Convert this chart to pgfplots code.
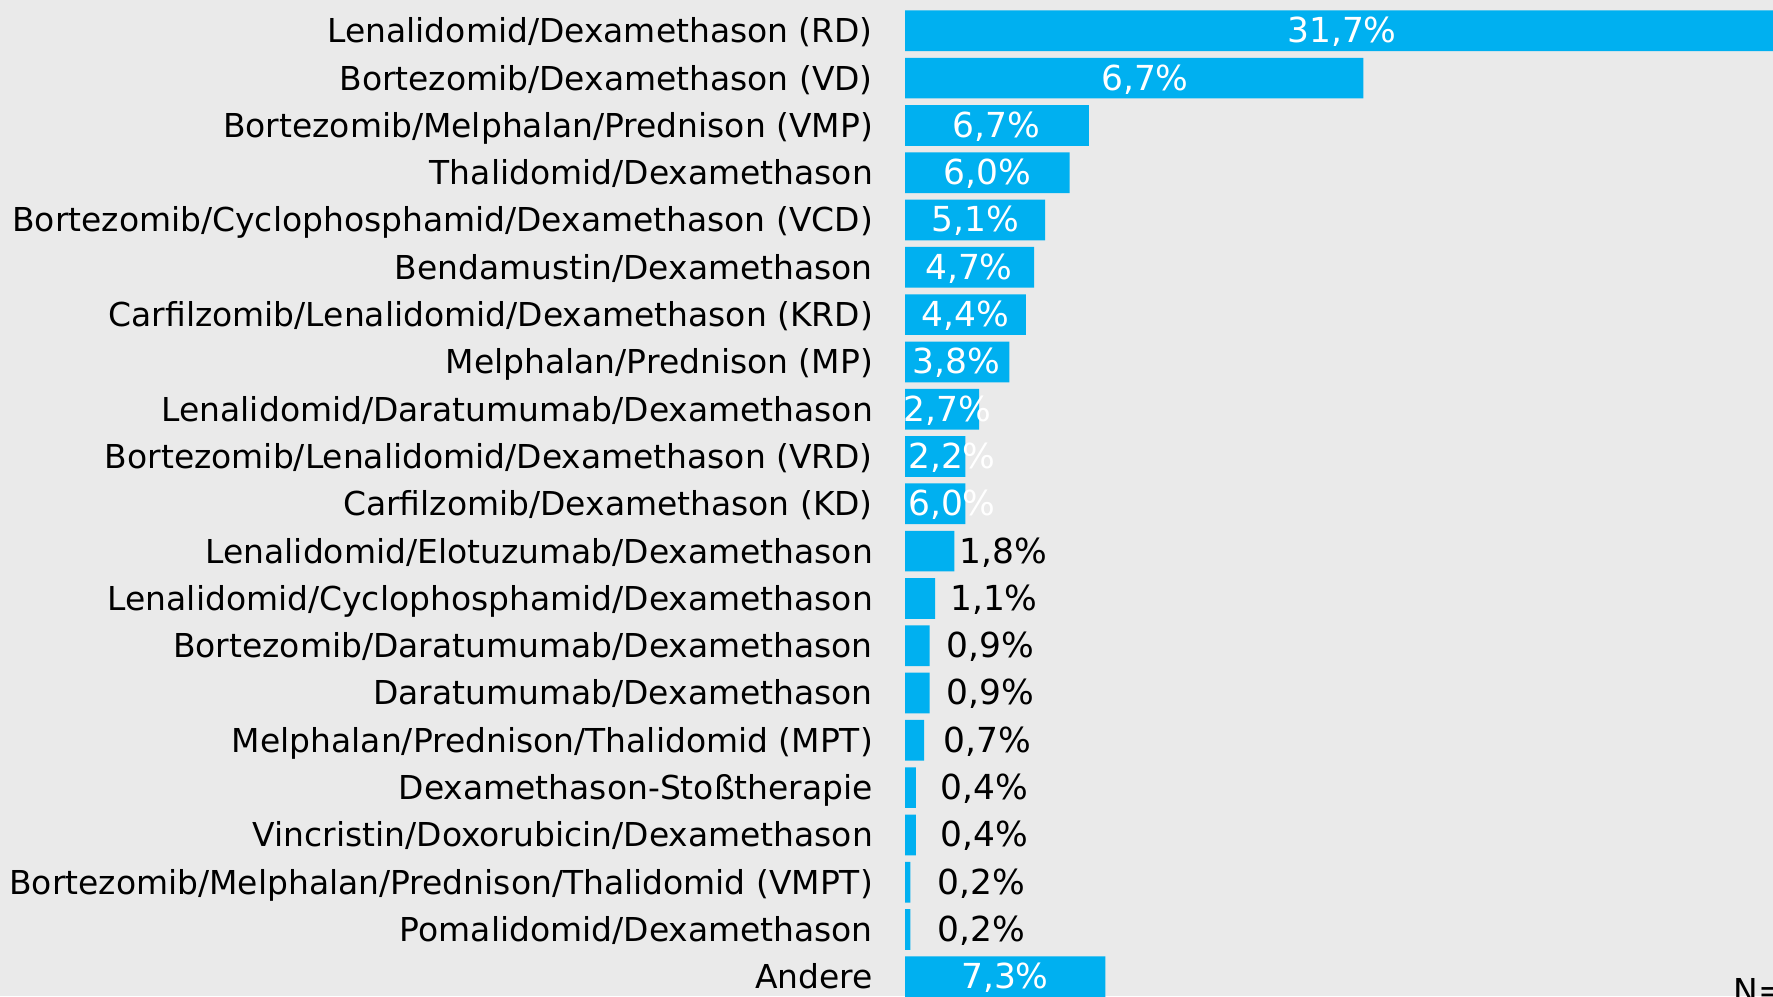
\documentclass[border=0pt]{standalone}
\usepackage{pgfplots}
\pgfplotsset{compat=1.18}
\usepackage{fontspec}
\setmainfont{DejaVu Sans}
\definecolor{barblue}{HTML}{00B0F0}
\definecolor{bggray}{HTML}{EAEAEA}
\begin{document}
\fontsize{9.37pt}{11pt}\selectfont
\begin{tikzpicture}
% 1 px of the reference = 0.01 cm
\useasboundingbox (0,0) rectangle (17.73,-9.96);
\fill[bggray] (0,0) rectangle (17.73,-9.96);
\clip (0,0) rectangle (17.73,-9.96);
\begin{axis}[
  at={(9.05cm,-0.0715cm)}, anchor=north west,
  scale only axis, width=8.702cm, height=9.933cm,
  xmin=0, xmax=31.7, ymin=-0.5, ymax=20.5, y dir=reverse,
  axis line style={draw=none},
  tick style={draw=none}, major tick length=0pt,
  xtick=\empty,
  ytick={0,...,20},
  yticklabels={
    Lenalidomid/Dexamethason (RD),
    Bortezomib/Dexamethason (VD),
    Bortezomib/Melphalan/Prednison (VMP),
    Thalidomid/Dexamethason,
    Bortezomib/Cyclophosphamid/Dexamethason (VCD),
    Bendamustin/Dexamethason,
    Carfilzomib/Lenalidomid/Dexamethason (KRD),
    Melphalan/Prednison (MP),
    Lenalidomid/Daratumumab/Dexamethason,
    Bortezomib/Lenalidomid/Dexamethason (VRD),
    Carfilzomib/Dexamethason (KD),
    Lenalidomid/Elotuzumab/Dexamethason,
    Lenalidomid/Cyclophosphamid/Dexamethason,
    Bortezomib/Daratumumab/Dexamethason,
    Daratumumab/Dexamethason,
    Melphalan/Prednison/Thalidomid (MPT),
    Dexamethason-Stoßtherapie,
    Vincristin/Doxorubicin/Dexamethason,
    Bortezomib/Melphalan/Prednison/Thalidomid (VMPT),
    Pomalidomid/Dexamethason,
    Andere},
  yticklabel style={anchor=mid east, inner sep=0pt, xshift=-0.315cm, yshift=-0.09em, text=black},
  clip=false,
]
% bars
\addplot[xbar, bar width=0.407cm, bar shift=0pt, fill=barblue, draw=none] coordinates {
  (31.7,0) (16.7,1) (6.7,2) (6.0,3) (5.1,4) (4.7,5) (4.4,6) (3.8,7)
  (2.7,8) (2.2,9) (2.2,10) (1.8,11) (1.1,12) (0.9,13) (0.9,14)
  (0.7,15) (0.4,16) (0.4,17) (0.2,18) (0.2,19) (7.3,20)
};
% white labels inside the bars
\addplot[only marks, mark=none, point meta=explicit symbolic, nodes near coords,
  nodes near coords style={text=white, anchor=mid, inner sep=0pt, yshift=-0.09em, font=\fontsize{9.8pt}{11pt}\selectfont}] coordinates {
  (15.92,0) [31,7\%] (8.74,1) [6,7\%] (3.32,2) [6,7\%] (2.99,3) [6,0\%]
  (2.55,4) [5,1\%] (2.33,5) [4,7\%] (2.20,6) [4,4\%] (1.88,7) [3,8\%]
  (1.53,8) [2,7\%] (1.71,9) [2,2\%] (1.71,10) [6,0\%] (3.64,20) [7,3\%]
};
% black labels beside the short bars
\addplot[only marks, mark=none, point meta=explicit symbolic, nodes near coords,
  nodes near coords style={text=black, anchor=mid, inner sep=0pt, yshift=-0.09em, font=\fontsize{9.8pt}{11pt}\selectfont}] coordinates {
  (3.57,11) [1,8\%] (3.24,12) [1,1\%] (3.10,13) [0,9\%] (3.10,14) [0,9\%]
  (2.99,15) [0,7\%] (2.88,16) [0,4\%] (2.88,17) [0,4\%] (2.77,18) [0,2\%]
  (2.77,19) [0,2\%]
};
\end{axis}
\node[anchor=base west, inner sep=0pt] at (17.33,-10.02) {N=};
\end{tikzpicture}
\end{document}
